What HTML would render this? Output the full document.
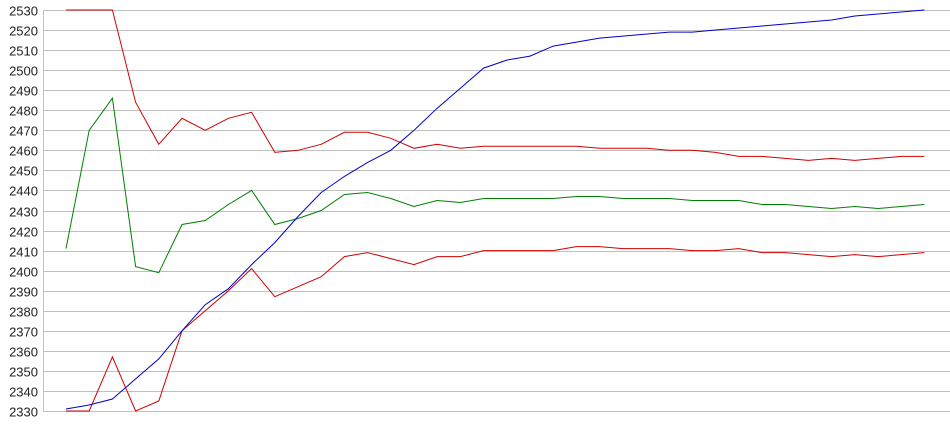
<!DOCTYPE html>
<html><head><meta charset="utf-8"><style>
html,body{margin:0;padding:0;background:#fff;}
svg{display:block;}
text{font-family:"Liberation Sans",sans-serif;font-size:13px;fill:#222;}
</style></head><body>
<svg id="c" width="950" height="435" xmlns="http://www.w3.org/2000/svg">
<g id="grid"></g>
<line x1="43.5" y1="10" x2="43.5" y2="411" stroke="#c0c0c0" stroke-width="1"/>
<g id="lines"></g>
</svg>
<script>
var ns="http://www.w3.org/2000/svg";
function Y(v){return 10+(2530-v)*2.005;}
function X(i){return 66+i*23.2;}
var g=document.getElementById('grid');
for(var v=2330;v<=2530;v+=10){
 var y=Math.round(Y(v))+0.5;
 var l=document.createElementNS(ns,'line');
 l.setAttribute('x1',43);l.setAttribute('x2',950);l.setAttribute('y1',y);l.setAttribute('y2',y);
 l.setAttribute('stroke','#c0c0c0');g.appendChild(l);
 var t=document.createElementNS(ns,'text');
 t.setAttribute('x',38);t.setAttribute('y',y+5);t.setAttribute('text-anchor','end');
 t.textContent=v;g.appendChild(t);
}
var series=[
['#d00000',[2530,2530,2530,2484,2463,2476,2470,2476,2479,2459,2460,2463,2469,2469,2466,2461,2463,2461,2462,2462,2462,2462,2462,2461,2461,2461,2460,2460,2459,2457,2457,2456,2455,2456,2455,2456,2457,2457]],
['#008000',[2411,2470,2486,2402,2399,2423,2425,2433,2440,2423,2426,2430,2438,2439,2436,2432,2435,2434,2436,2436,2436,2436,2437,2437,2436,2436,2436,2435,2435,2435,2433,2433,2432,2431,2432,2431,2432,2433]],
['#d00000',[2330,2330,2357,2330,2335,2370,2380,2390,2401,2387,2392,2397,2407,2409,2406,2403,2407,2407,2410,2410,2410,2410,2412,2412,2411,2411,2411,2410,2410,2411,2409,2409,2408,2407,2408,2407,2408,2409]],
['#0000d0',[2331,2333,2336,2346,2356,2370,2383,2391,2403,2414,2427,2439,2447,2454,2460,2470,2481,2491,2501,2505,2507,2512,2514,2516,2517,2518,2519,2519,2520,2521,2522,2523,2524,2525,2527,2528,2529,2530]]
];
var L=document.getElementById('lines');
series.forEach(function(s){
 var p=document.createElementNS(ns,'polyline');
 p.setAttribute('points',s[1].map(function(v,i){return X(i).toFixed(1)+','+Y(v).toFixed(1);}).join(' '));
 p.setAttribute('fill','none');p.setAttribute('stroke',s[0]);p.setAttribute('stroke-width','1');
 L.appendChild(p);
});
</script>
</body></html>
